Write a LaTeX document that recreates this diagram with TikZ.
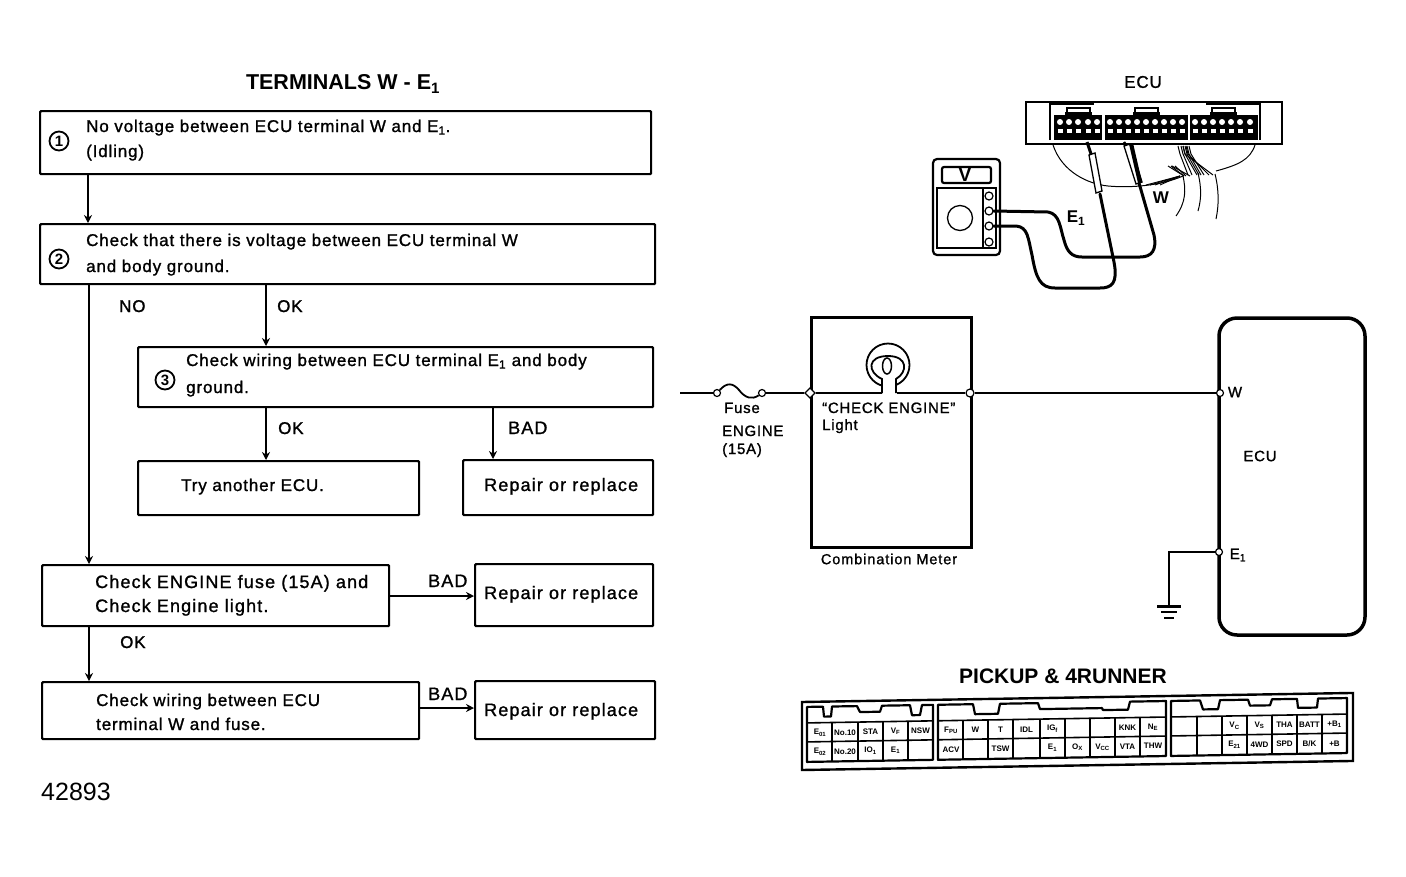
\documentclass[tikz,border=0pt]{standalone}
\usepackage{fontspec}
\setmainfont{Liberation Sans}
\newfontfamily\lsn[LetterSpace=5,FakeBold=1.2]{Liberation Sans}
\newfontfamily\lsw[LetterSpace=6.3,FakeBold=1.2]{Liberation Sans}
\usetikzlibrary{arrows.meta}
\newcommand{\bodyf}{\lsn\fontsize{17}{20}\selectfont}
\newcommand{\widef}{\lsw\fontsize{18}{20}\selectfont}
\newcommand{\smallf}{\lsn\fontsize{15}{18}\selectfont}
\newcommand{\cellf}{\fontsize{8}{9}\selectfont\bfseries}
\newcommand{\sbs}[1]{\textsubscript{#1}}
\tikzset{
  flowbox/.style={draw=black,line width=2.2pt,anchor=north west,inner sep=0pt,fill=none,rounded corners=1pt},
  txt/.style={anchor=base west,inner sep=0pt,font=\bodyf},
  txtw/.style={anchor=base west,inner sep=0pt,font=\widef},
  num/.style={draw=black,circle,line width=1.8pt,minimum size=19pt,inner sep=0pt,font=\fontsize{15}{15}\selectfont\bfseries},
  flow/.style={draw=black,line width=1.9pt,-{Stealth[length=8pt,width=8pt]}},
  wire/.style={draw=black,line width=1.8pt},
  thick box/.style={draw=black,line width=3pt},
  term/.style={draw=black,fill=white,circle,line width=1.2pt,minimum size=8pt,inner sep=0pt},
  cable/.style={draw=black,line width=3pt,line cap=round,line join=round},
  thinw/.style={draw=black,line width=1pt},
  cell/.style={inner sep=0pt,font=\cellf},
}
\begin{document}
\begin{tikzpicture}[x=1pt,y=-1pt]
\useasboundingbox (0,0) rectangle (1406,876);
\fill[white] (0,0) rectangle (1406,876);

% ---------- flowchart ----------
\node[anchor=center,inner sep=0pt,font=\fontsize{21.5}{24}\selectfont\bfseries] (title) at (343,84) {TERMINALS W - E\sbs{1}};

\node[flowbox,minimum width=611pt,minimum height=63pt] (b1) at (39,110) {};
\node[flowbox,minimum width=615pt,minimum height=60pt] (b2) at (39,223) {};
\node[flowbox,minimum width=515pt,minimum height=60pt] (b3) at (137,346) {};
\node[flowbox,minimum width=281pt,minimum height=54pt] (b4) at (137,460) {};
\node[flowbox,minimum width=190pt,minimum height=55pt] (r1) at (462,459) {};
\node[flowbox,minimum width=347pt,minimum height=61pt] (b5) at (41,564) {};
\node[flowbox,minimum width=178pt,minimum height=62pt] (r2) at (474,563) {};
\node[flowbox,minimum width=377pt,minimum height=57pt] (b6) at (41,681) {};
\node[flowbox,minimum width=180pt,minimum height=58pt] (r3) at (474,680) {};

\node[num] (n1) at (59,141) {1};
\node[num] (n2) at (59,259) {2};
\node[num] (n3) at (165,380) {3};

\node[txt] (t1a) at (86,132) {No voltage between ECU terminal W and E\sbs{1}.};
\node[txt] (t1b) at (86,157) {(Idling)};
\node[txt] (t2a) at (86,246) {Check that there is voltage between ECU terminal W};
\node[txt] (t2b) at (86,272) {and body ground.};
\node[txt] (t3a) at (186,366) {Check wiring between ECU terminal E\sbs{1} and body};
\node[txt] (t3b) at (186,393) {ground.};
\node[txt] (t4) at (181,491) {Try another ECU.};
\node[txtw] (t5) at (484,491) {Repair or replace};
\node[txtw] (t6a) at (95,588) {Check ENGINE fuse (15A) and};
\node[txtw] (t6b) at (95,612) {Check Engine light.};
\node[txtw] (t7) at (484,599) {Repair or replace};
\node[txt] (t8a) at (96,706) {Check wiring between ECU};
\node[txt] (t8b) at (96,730) {terminal W and fuse.};
\node[txtw] (t9) at (484,716) {Repair or replace};

\coordinate (xa) at (88,0);
\coordinate (xb) at (266,0);
\coordinate (xc) at (493,0);
\coordinate (xd) at (89,0);
\coordinate (ya) at (0,596);
\coordinate (yb) at (0,708);
\draw[flow] (b1.south -| xa) -- (b2.north -| xa);
\draw[flow] (b2.south -| xd) -- (b5.north -| xd);
\draw[flow] (b2.south -| xb) -- (b3.north -| xb);
\draw[flow] (b3.south -| xb) -- (b4.north -| xb);
\draw[flow] (b3.south -| xc) -- (r1.north -| xc);
\draw[flow] (b5.east |- ya) -- (r2.west |- ya);
\draw[flow] (b5.south -| xd) -- (b6.north -| xd);
\draw[flow] (b6.east |- yb) -- (r3.west |- yb);

\node[txt] (l1) at (119,312) {NO};
\node[txt] (l2) at (277,312) {OK};
\node[txt] (l3) at (278,434) {OK};
\node[txtw] (l4) at (508,434) {BAD};
\node[txtw] (l5) at (428,587) {BAD};
\node[txt] (l6) at (120,648) {OK};
\node[txtw] (l7) at (428,700) {BAD};
\node[anchor=base west,inner sep=0pt,font=\fontsize{25}{28}\selectfont] (code) at (41,800) {42893};

% ---------- ECU and meter illustration ----------
\node[anchor=center,inner sep=0pt,font=\bodyf] (ecutop) at (1143,82) {ECU};
\draw[line width=2.2pt] (1026,102) rectangle (1282,144);
\draw[line width=2pt] (1050,140) -- (1050,104) -- (1094,104);
\draw[line width=2pt] (1094,102) -- (1168,102);
\draw[line width=2pt] (1206,104) -- (1260,104) -- (1260,140);
\foreach \x in {1067,1135,1212}{
  \draw[line width=1.5pt] (\x,113) -- (\x,108) -- (\x+23,108) -- (\x+23,113);
  \fill (\x-2,112) rectangle (\x+25,115);
}
\fill (1054,115) rectangle (1102,140);
\fill (1105,115) rectangle (1188,140);
\fill (1190,115) rectangle (1258,140);
\foreach \x in {1060,1069,1078,1088,1097,1110,1119,1128,1137,1146,1155,1164,1173,1182,1195,1204,1213,1222,1231,1240,1250}{
  \fill[white] (\x,122) circle (3pt);
  \fill[white] (\x-2.5,129) rectangle (\x+2.5,133);
}
% harness
\draw[thinw] (1053,145) .. controls (1062,172) and (1088,184) .. (1108,186) .. controls (1130,188) and (1160,186) .. (1183,176);
\draw[thinw] (1255,145) .. controls (1250,160) and (1238,165) .. (1216,171);
\draw[thinw] (1183,176) .. controls (1186,190) and (1186,202) .. (1176,216);
\draw[thinw] (1198,173) .. controls (1202,190) and (1201,200) .. (1198,211);
\draw[thinw] (1215,174) .. controls (1219,190) and (1219,205) .. (1216,219);
\foreach \a/\b in {1183/1197,1185/1199,1187/1201,1189/1204,1186/1209,1183/1213,1181/1192,1178/1188}{
  \draw[line width=1pt] (\a,146) -- (\a+2,154) -- (\b,175);
}
\foreach \a/\b in {1171/1184,1168/1184,1172/1190,1175/1186}{
  \draw[line width=1pt] (\a,166) -- (\b,176);
}
\foreach \a in {1146,1150,1155,1160}{
  \draw[line width=0.9pt] (\a,185) -- (1180,176);
}
% probes
\draw[line width=3pt] (1087,142) -- (1091,154);
\draw[line width=1.3pt,fill=white] (1089,155) -- (1095,153) -- (1102,191) -- (1096,193) -- cycle;
\draw[line width=2.5pt] (1124,142) -- (1127,147);
\draw[line width=1.3pt,fill=white] (1124,146) -- (1130,144) -- (1142,182) -- (1136,184) -- cycle;
\fill (1129,144) -- (1133,143) -- (1142,182) -- (1138,183) -- cycle;
% meter
\draw[line width=2.2pt,rounded corners=4pt] (933,159) rectangle (1000,255);
\draw[line width=2.2pt,rounded corners=2pt] (942,167) rectangle (991,183);
\node[anchor=center,inner sep=0pt,font=\fontsize{19}{19}\selectfont\bfseries] (vm) at (965,175) {V};
\draw[line width=1.6pt] (937,188) rectangle (996,248);
\draw[line width=1.3pt] (983,188) -- (983,248);
\draw[line width=1.3pt] (960,218) circle (12.5pt);
\node[term] (m1) at (989,196) {};
\node[term] (m2) at (989,211) {};
\node[term] (m3) at (989,226) {};
\node[term] (m4) at (989,242) {};
% cables
\draw[cable] (m2.east) -- (1048,212) .. controls (1060,214) and (1060,228) .. (1064,240) .. controls (1067,252) and (1072,257) .. (1082,257) -- (1140,257) .. controls (1152,257) and (1157,250) .. (1154,235) -- (1139,183);
\draw[cable] (m3.east) -- (1016,226) .. controls (1028,227) and (1028,238) .. (1032,255) .. controls (1036,278) and (1040,288) .. (1055,288) -- (1100,288) .. controls (1112,288) and (1118,283) .. (1114,262) -- (1100,194);
\node[anchor=center,inner sep=0pt,font=\fontsize{17}{17}\selectfont\bfseries] (e1p) at (1076,218) {E\sbs{1}};
\node[anchor=center,inner sep=0pt,font=\fontsize{17}{17}\selectfont\bfseries] (wp) at (1161,198) {W};

% ---------- circuit ----------
\coordinate (start) at (680,393);
\node[term,minimum size=7pt] (f1) at (717,393) {};
\node[term,minimum size=7pt] (f2) at (762,393) {};
\draw[thick box] (811,317) rectangle (971,547);
\draw[line width=3.5pt,rounded corners=18pt] (1219,393) -- (1219,318) -- (1365,318) -- (1365,635) -- (1219,635) -- (1219,393);
\node[term,rotate=45,rectangle,minimum size=7pt] (j1) at (810,393) {};
\node[term] (j2) at (970,393) {};
\node[term,minimum size=7pt] (jw) at (1220,393) {};
\node[term,minimum size=7pt] (je) at (1219,552) {};
\draw[wire,line width=2.2pt] (start) -- (f1);
\draw[wire] (f1) .. controls (727,382) and (733,383) .. (739,390) .. controls (745,398) and (752,400) .. (f2);
\draw[wire] (f2) -- (j1);
\draw[wire] (j1) -- (882,393);
\draw[wire] (897,393) -- (j2);
\draw[wire] (j2) -- (jw);
\draw[line width=1.8pt] (888,365) circle (21.5pt);
\draw[line width=1.8pt,fill=white] (882,393) -- (882,379) .. controls (867,372) and (867,356) .. (888,356) .. controls (908,356) and (908,372) .. (896,379) -- (896,393);
\draw[line width=1.5pt] (887,366) ellipse (4.5pt and 8pt);
\node[anchor=base west,inner sep=0pt,font=\smallf] (fuse) at (724,413) {Fuse};
\node[anchor=base west,inner sep=0pt,font=\smallf] (eng) at (722,436) {ENGINE};
\node[anchor=base west,inner sep=0pt,font=\smallf] (amp) at (722,454) {(15A)};
\node[anchor=base west,inner sep=0pt,font=\smallf] (ce) at (822,413) {“CHECK ENGINE”};
\node[anchor=base west,inner sep=0pt,font=\smallf] (li) at (822,430) {Light};
\node[anchor=center,inner sep=0pt,font=\lsw\fontsize{14.5}{16}\selectfont] (cm) at (889,559) {Combination Meter};
\node[anchor=center,inner sep=0pt,font=\smallf] (w) at (1235,392) {W};
\node[anchor=center,inner sep=0pt,font=\smallf] (ecu) at (1260,456) {ECU};
\node[anchor=center,inner sep=0pt,font=\smallf] (e1) at (1238,555) {E\sbs{1}};
\coordinate (gnd) at (1169,606);
\draw[wire] (je) -- (je -| gnd) -- (gnd);
\draw[line width=3pt] ([xshift=-12pt]gnd) -- ([xshift=12pt]gnd);
\draw[line width=2.4pt] (1161,612) -- (1177,612);
\draw[line width=2.2pt] (1164,618) -- (1174,618);

% ---------- connector chart ----------
\node[anchor=center,inner sep=0pt,font=\fontsize{21}{23}\selectfont\bfseries] (pick) at (1063,676) {PICKUP \& 4RUNNER};
\begin{scope}[shift={(0,26.15)},yslant=0.0164]
\draw[line width=2.4pt] (802,689) rectangle (1353,757);
\draw[line width=2.2pt,line join=round] (807,694) -- (823,694) -- (824,704) -- (831,704) -- (832,694) -- (857,694) -- (860,700) -- (880,700) -- (882,694) -- (910,694) -- (912,704) -- (920,704) -- (922,694) -- (933,694) -- (933,749) -- (807,749) -- cycle;
\draw[line width=2.2pt,line join=round] (938,694) -- (973,694) -- (975,704) -- (998,704) -- (1000,694) -- (1038,694) -- (1040,700) -- (1102,700) -- (1103,702) -- (1128,702) -- (1130,694) -- (1166,694) -- (1166,749) -- (938,749) -- cycle;
\draw[line width=2.2pt,line join=round] (1171,694) -- (1200,694) -- (1203,703) -- (1218,703) -- (1220,694) -- (1248,694) -- (1250,700) -- (1270,700) -- (1272,694) -- (1297,694) -- (1298,703) -- (1317,703) -- (1318,694) -- (1347,694) -- (1347,749) -- (1171,749) -- cycle;
\foreach \l/\r in {807/933,938/1166,1171/1347}{
  \draw[line width=1.6pt] (\l,710) -- (\r,710);
  \draw[line width=1.6pt] (\l,729) -- (\r,729);
}
\foreach \x in {832,858,883,908,963,988,1013,1040,1065,1090,1115,1140,1197,1222,1247,1272,1297,1322}{
  \draw[line width=1.6pt] (\x,710) -- (\x,749);
}
% labels: upper row y=720, lower row y=739
\foreach \x/\s in {820/E\sbs{01},845/No.10,870.5/STA,895.5/V\sbs{F},920.5/NSW,951/F\sbs{PU},975.5/W,1000.5/T,1026.5/IDL,1052.5/IG\sbs{f},1127.5/KNK,1153/N\sbs{E},1234.5/V\sbs{C},1259.5/V\sbs{S},1284.5/THA,1309.5/BATT,1334.5/+B\sbs{1}}{
  \node[cell] at (\x,720) {\s};
}
\foreach \x/\s in {820/E\sbs{02},845/No.20,870.5/IO\sbs{1},895.5/E\sbs{1},951/ACV,1000.5/TSW,1052.5/E\sbs{1},1077.5/O\sbs{X},1102.5/V\sbs{CC},1127.5/VTA,1153/THW,1234.5/E\sbs{21},1259.5/4WD,1284.5/SPD,1309.5/{B/K},1334.5/+B}{
  \node[cell] at (\x,739) {\s};
}
\end{scope}
\end{tikzpicture}
\end{document}
